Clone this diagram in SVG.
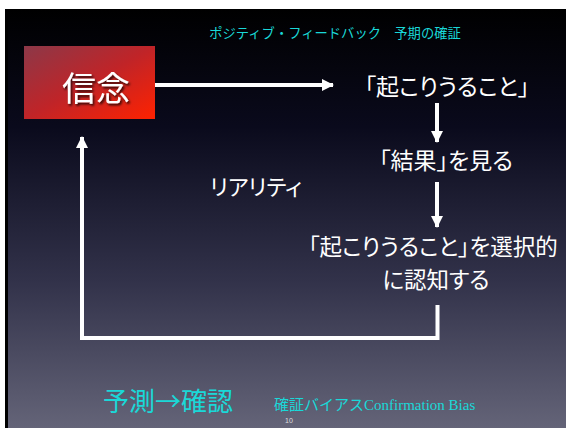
<svg xmlns="http://www.w3.org/2000/svg" width="566" height="428" viewBox="0 0 566 428">
  <defs>
    <linearGradient id="bg" x1="0" y1="0" x2="0" y2="1">
      <stop offset="0" stop-color="#000000"/>
      <stop offset="0.28" stop-color="#0a0a1c"/>
      <stop offset="0.65" stop-color="#32324a"/>
      <stop offset="1" stop-color="#646478"/>
    </linearGradient>
    <linearGradient id="red" x1="0" y1="0" x2="1" y2="1">
      <stop offset="0" stop-color="#8c3848"/>
      <stop offset="0.5" stop-color="#c02428"/>
      <stop offset="1" stop-color="#ff2200"/>
    </linearGradient>
    <filter id="sh" x="-20%" y="-20%" width="140%" height="140%">
      <feDropShadow dx="1.5" dy="2" stdDeviation="0.8" flood-color="#000" flood-opacity="0.8"/>
    </filter>
    <marker id="ah" viewBox="0 0 12 12" refX="11" refY="6" markerWidth="12" markerHeight="12" markerUnits="userSpaceOnUse" orient="auto">
      <path d="M0,0 L12,6 L0,12 Z" fill="#ffffff"/>
    </marker>
    <style>
      .jp { font-family: "Noto Sans CJK JP", "Noto Sans", sans-serif; }
      .p { font-feature-settings: "palt"; }
      .w { fill: #ffffff; }
      .c { fill: #1ad8d8; }
      .ln { stroke: #ffffff; stroke-width: 4; fill: none; }
    </style>
  </defs>
  <rect x="0" y="0" width="566" height="428" fill="#ffffff"/>
  <rect x="5" y="9" width="561" height="419" fill="url(#bg)"/>
  <rect x="5" y="9" width="3" height="419" fill="#000000"/>

  <text class="jp c" x="335" y="38" font-size="13.3" text-anchor="middle">ポジティブ・フィードバック　予期の確証</text>

  <g id="connectors">
    <line class="ln" x1="155" y1="85" x2="333" y2="85" marker-end="url(#ah)"/>
    <line class="ln" x1="437" y1="103" x2="437" y2="142" marker-end="url(#ah)"/>
    <line class="ln" x1="437" y1="182" x2="437" y2="227" marker-end="url(#ah)"/>
    <polyline class="ln" points="437.5,305 437.5,338 82,338 82,137" marker-end="url(#ah)"/>
  </g>

  <g id="belief">
    <rect x="24" y="46" width="131" height="73" fill="url(#red)"/>
    <text class="jp w" x="96" y="101" font-size="34" text-anchor="middle" filter="url(#sh)">信念</text>
  </g>
  <g id="possible">
    <text class="jp w p" x="447" y="95" font-size="23" text-anchor="middle">「起こりうること」</text>
  </g>
  <g id="result">
    <text class="jp w p" x="446" y="169" font-size="23" text-anchor="middle">「結果」を見る</text>
  </g>
  <g id="selective">
    <text class="jp w p" x="433" y="255" font-size="22.5" text-anchor="middle">「起こりうること」を選択的</text>
    <text class="jp w p" x="436" y="288" font-size="22.5" text-anchor="middle">に認知する</text>
  </g>
  <g id="reality">
    <text class="jp w p" x="256" y="195" font-size="22" text-anchor="middle">リアリティ</text>
  </g>

  <text class="jp c" x="103" y="411" font-size="26">予測→確認</text>
  <text class="c" x="274" y="410" font-size="15"><tspan class="jp">確証バイアス</tspan><tspan font-family="'Liberation Serif', serif">Confirmation Bias</tspan></text>
  <text x="285" y="423" font-size="7" fill="#dddddd" font-family="'Liberation Sans', sans-serif">10</text>
</svg>
